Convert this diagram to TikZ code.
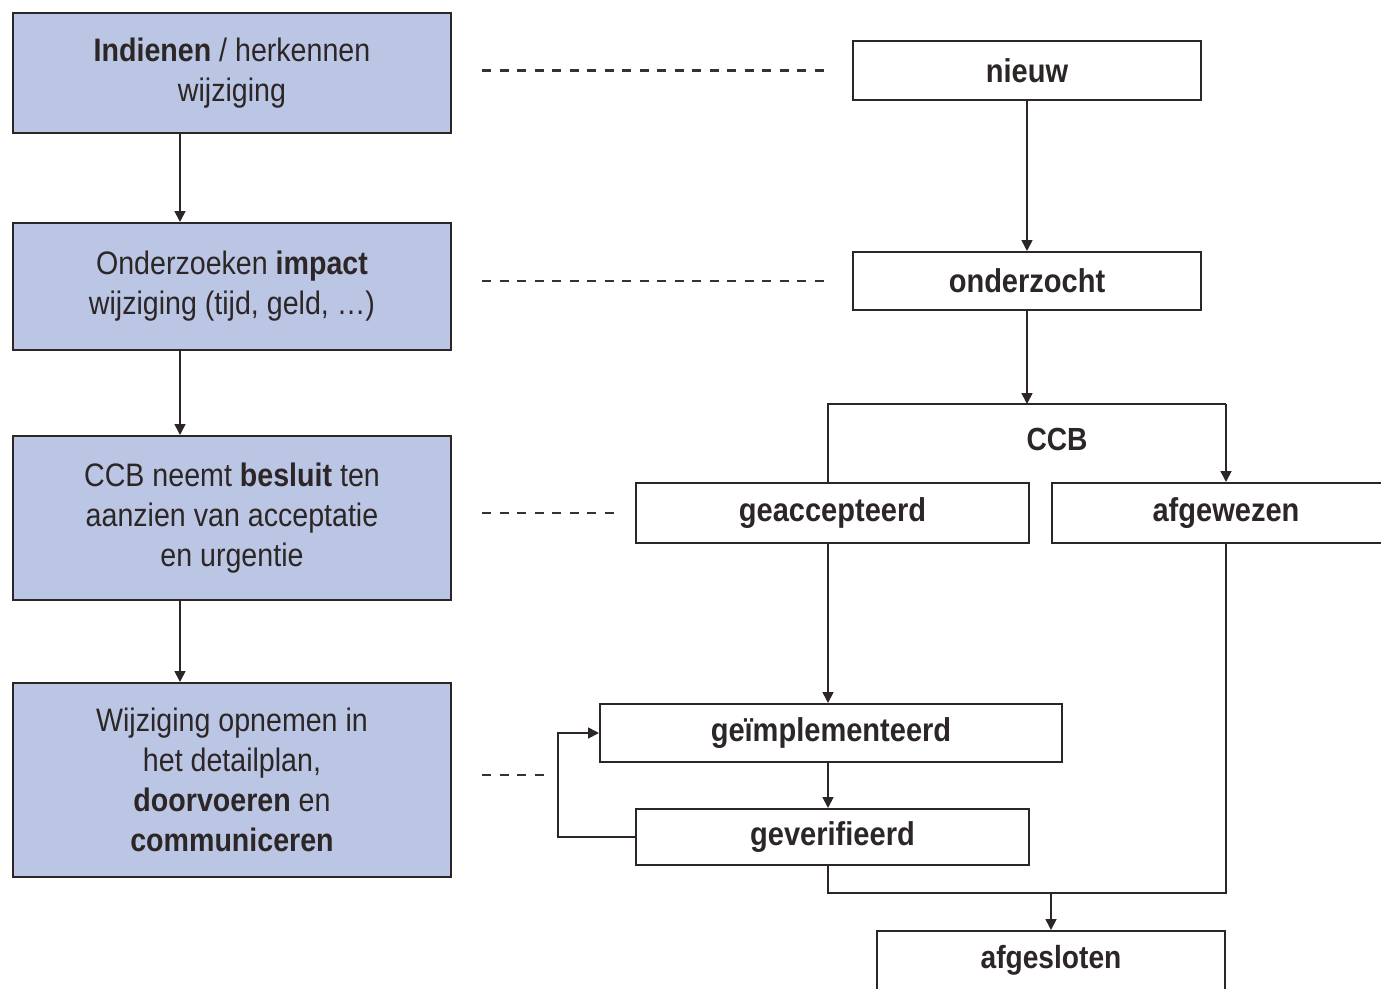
\documentclass[tikz,border=0pt]{standalone}
\usepackage{fontspec}
\setmainfont{Liberation Sans}[FakeStretch=0.88]
\usetikzlibrary{arrows.meta}
\definecolor{boxblue}{RGB}{187,198,228}
\definecolor{edgec}{RGB}{45,38,38}
\definecolor{dashc}{RGB}{55,50,50}
\begin{document}
\begin{tikzpicture}[x=1pt,y=-1pt,
  lbox/.style={draw=edgec,line width=2pt,fill=boxblue,inner sep=0pt,align=center,
    minimum width=438pt,font=\fontsize{32.5}{40}\selectfont,text=edgec},
  rbox/.style={draw=edgec,line width=2pt,fill=white,inner sep=0pt,align=center,
    font=\fontsize{33}{36}\selectfont\bfseries,text=edgec},
  lbl/.style={font=\fontsize{32}{36}\selectfont\bfseries,text=edgec},
  arr/.style={draw=edgec,line width=1.7pt,-{Triangle[length=11pt,width=11pt]}},
  conn/.style={draw=edgec,line width=1.7pt},
  dashline/.style={draw=dashc,line width=2.2pt,dash pattern=on 9pt off 8.5pt}]
\clip (0,0) rectangle (1381,988);
\fill[white] (0,0) rectangle (1381,988);
% left column
\node[lbox,minimum height=120pt] (b1) at (232,73) {\textbf{Indienen} / herkennen\\wijziging};
\node[lbox,minimum height=127pt] (b2) at (232,286.5) {Onderzoeken \textbf{impact}\\wijziging (tijd, geld, \dots)};
\node[lbox,minimum height=164pt] (b3) at (232,518) {CCB neemt \textbf{besluit} ten\\aanzien van acceptatie\\en urgentie};
\node[lbox,minimum height=194pt] (b4) at (232,780) {Wijziging opnemen in\\het detailplan,\\\textbf{doorvoeren} en\\\textbf{communiceren}};
\draw[arr] ([xshift=-52pt]b1.south) -- ([xshift=-52pt]b2.north);
\draw[arr] ([xshift=-52pt]b2.south) -- ([xshift=-52pt]b3.north);
\draw[arr] ([xshift=-52pt]b3.south) -- ([xshift=-52pt]b4.north);
% right column
\node[rbox,minimum width=348pt,minimum height=59pt] (nieuw) at (1027,70.5) {nieuw};
\node[rbox,minimum width=348pt,minimum height=58pt] (onderz) at (1027,281) {onderzocht};
\node[rbox,minimum width=393pt,minimum height=60pt] (geacc) at (832.5,513) {geaccepteerd};
\node[rbox,minimum width=348pt,minimum height=60pt,text width=329pt] (afgew) at (1226,513) {afgewezen};
\node[rbox,minimum width=462pt,minimum height=58pt] (geimpl) at (831,733) {geïmplementeerd};
\node[rbox,minimum width=393pt,minimum height=56pt] (geverif) at (832.5,837) {geverifieerd};
\node[rbox,minimum width=348pt,minimum height=62pt] (afgesl) at (1051,962) {};
\node[lbl] (afgesltxt) at (1051,960) {afgesloten};
\node[lbl] (ccb) at (1057,439) {CCB};
\coordinate (ccbL) at (828,404);
\coordinate (ccbR) at (1226,404);
\coordinate (merge) at (1051,893);
\draw[arr] (nieuw.south) -- (onderz.north);
\draw[arr] (onderz.south) -- (onderz.south |- ccbL);
\draw[conn] (geacc.north -| ccbL) -- (ccbL) -- (ccbR);
\draw[arr] (ccbR) -- (afgew.north -| ccbR);
\draw[arr] (geacc.south -| ccbL) -- (geimpl.north -| ccbL);
\draw[arr] (geimpl.south -| ccbL) -- (geverif.north -| ccbL);
\draw[arr] (geverif.west) -- ++(-77,0) |- (geimpl.west);
\draw[conn] (geverif.south -| ccbL) |- (merge) -| (afgew.south -| ccbR);
\draw[arr] (merge) -- (afgesl.north);
% dashed links
\draw[dashline] ([xshift=30pt]b1.east |- nieuw.west) -- ([xshift=-21pt]nieuw.west);
\draw[dashline] ([xshift=30pt]b2.east |- onderz.west) -- ([xshift=-21pt]onderz.west);
\draw[dashline] ([xshift=30pt]b3.east |- geacc.west) -- ([xshift=-14pt]geacc.west);
\draw[dashline] ([xshift=30pt]b4.east |- 0,775) -- ([xshift=-52pt]geimpl.west |- 0,775);
\end{tikzpicture}
\end{document}
